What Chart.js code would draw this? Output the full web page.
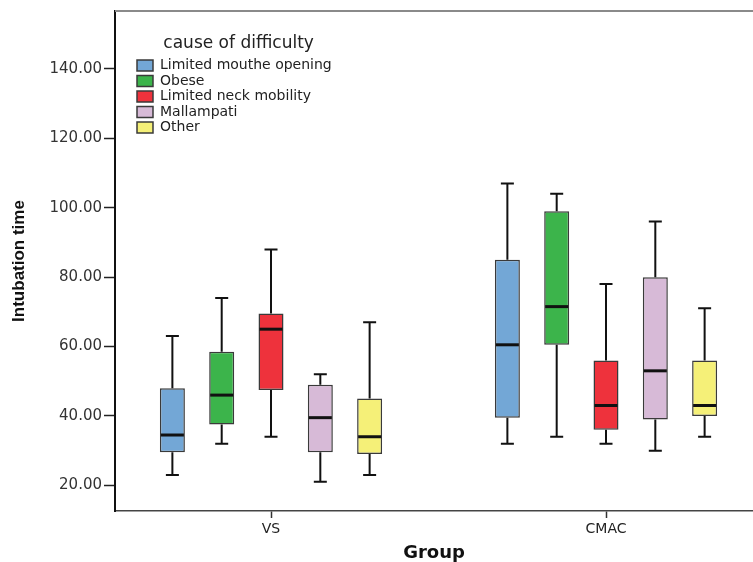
<!DOCTYPE html>
<html>
<head>
<meta charset="utf-8">
<script src="https://cdn.jsdelivr.net/npm/chart.js@4.4.0/dist/chart.umd.min.js"></script>
<style>
    body { margin: 0; background: #fff; overflow: hidden; }
    canvas { display: block; }
</style>
</head>
<body>
<canvas id="chart_intubation" width="753" height="562"></canvas>
<script>
// groups on the x axis
const groups = ['VS', 'CMAC'];
// cause of difficulty (one box per cause and group)
const causes = ['Limited mouthe opening', 'Obese', 'Limited neck mobility', 'Mallampati', 'Other'];
const colors = ['#73a7d6', '#3cb44b', '#ee323c', '#d7bad7', '#f5f078'];

// box plot stats, [cause][group]
const whiskerLow  = [[23, 32], [32, 34], [34, 32], [21, 30], [23, 34]];
const quartile1   = [[29.5, 39.5], [37.5, 60.5], [47.5, 36], [29.5, 39], [29, 40]];
const medians     = [[34.5, 60.5], [46, 71.5], [65, 43], [39.5, 53], [34, 43]];
const quartile3   = [[48, 85], [58.5, 99], [69.5, 56], [49, 80], [45, 56]];
const whiskerHigh = [[63, 107], [74, 104], [88, 78], [52, 96], [67, 71]];

const yTicks = [20, 40, 60, 80, 100, 120, 140];

document.addEventListener('DOMContentLoaded', function(){

    const datasets = causes.map((cause, ci) => ({
        label: cause,
        data: groups.map((g, gi) => ({ x: gi, y: [quartile1[ci][gi], quartile3[ci][gi]] })),
        low: whiskerLow[ci],
        med: medians[ci],
        high: whiskerHigh[ci],
        backgroundColor: colors[ci],
        borderColor: '#3a3a3a',
        borderWidth: 1.5,
        borderSkipped: false,
        categoryPercentage: 0.736,
        barPercentage: 0.507
    }));

    // whiskers + median line on top of the floating bars
    const boxWhiskers = {
        id: 'boxWhiskers',
        afterDatasetsDraw(chart) {
            const ctx = chart.ctx;
            const yScale = chart.scales.y;
            chart.data.datasets.forEach((ds, di) => {
                chart.getDatasetMeta(di).data.forEach((bar, gi) => {
                    const { x, width } = bar.getProps(['x', 'width'], true);
                    const pLow = yScale.getPixelForValue(ds.low[gi]);
                    const pHigh = yScale.getPixelForValue(ds.high[gi]);
                    const pQ1 = yScale.getPixelForValue(ds.data[gi].y[0]);
                    const pQ3 = yScale.getPixelForValue(ds.data[gi].y[1]);
                    const pMed = yScale.getPixelForValue(ds.med[gi]);
                    const cap = width * 0.26;

                    ctx.save();
                    ctx.strokeStyle = '#111';
                    ctx.lineWidth = 2;
                    ctx.beginPath();
                    ctx.moveTo(x, pQ3); ctx.lineTo(x, pHigh);
                    ctx.moveTo(x - cap, pHigh); ctx.lineTo(x + cap, pHigh);
                    ctx.moveTo(x, pQ1); ctx.lineTo(x, pLow);
                    ctx.moveTo(x - cap, pLow); ctx.lineTo(x + cap, pLow);
                    ctx.stroke();

                    ctx.lineWidth = 3;
                    ctx.beginPath();
                    ctx.moveTo(x - width / 2 + 1, pMed);
                    ctx.lineTo(x + width / 2 - 1, pMed);
                    ctx.stroke();
                    ctx.restore();
                });
            });
        }
    };

    // top frame line + legend placed inside the plot
    const frame = {
        id: 'frame',
        afterLayout(chart) {
            const area = chart.chartArea;
            const lg = chart.legend;
            lg.left = area.left + 20.5;
            lg.top = area.top + 16;
            lg.right = area.right;
            lg.bottom = area.bottom;
        },
        beforeDatasetsDraw(chart) {
            const { ctx, chartArea } = chart;
            ctx.save();
            ctx.strokeStyle = '#8a8a8a';
            ctx.lineWidth = 2;
            ctx.beginPath();
            ctx.moveTo(chartArea.left, chartArea.top);
            ctx.lineTo(chartArea.right, chartArea.top);
            ctx.stroke();
            ctx.restore();
        }
    };

    new Chart(document.querySelector('#chart_intubation'), {
        type: 'bar',
        data: { datasets: datasets },
        options: {
            responsive: false,
            animation: false,
            layout: { padding: { top: 10, left: 0, right: 0, bottom: 0 } },
            plugins: {
                tooltip: { enabled: false },
                legend: {
                    position: 'chartArea',
                    align: 'start',
                    title: {
                        display: true,
                        text: 'cause of difficulty',
                        color: '#222',
                        font: { family: 'DejaVu Sans', size: 17 },
                        padding: { top: 8.2, bottom: 1.4 }
                    },
                    labels: {
                        boxWidth: 16,
                        boxHeight: 11,
                        padding: 1.5,
                        color: '#222',
                        font: { family: 'DejaVu Sans', size: 14 }
                    }
                }
            },
            scales: {
                x: {
                    type: 'linear',
                    offset: false,
                    min: -0.4657,
                    max: 1.4388,
                    afterBuildTicks: scale => { scale.ticks = groups.map((g, i) => ({ value: i })); },
                    afterFit: scale => { scale.height = 51; },
                    ticks: {
                        callback: v => groups[v],
                        color: '#222',
                        padding: 3,
                        font: { family: 'DejaVu Sans', size: 14 }
                    },
                    grid: { offset: false, drawOnChartArea: false, drawTicks: true, tickLength: 7, tickColor: '#333', tickWidth: 1.5 },
                    border: { color: '#444', width: 1.5 },
                    title: {
                        display: true,
                        text: 'Group',
                        color: '#111',
                        font: { family: 'DejaVu Sans', size: 18, weight: 'bold', lineHeight: 1 },
                        padding: { top: 0, bottom: 0 }
                    }
                },
                y: {
                    min: 12.6,
                    max: 156.7,
                    afterBuildTicks: scale => { scale.ticks = yTicks.map(v => ({ value: v })); },
                    afterFit: scale => { scale.width = 115; },
                    ticks: {
                        callback: v => v.toFixed(2),
                        color: '#333',
                        padding: 2,
                        font: { family: 'DejaVu Sans', size: 15 }
                    },
                    grid: { drawOnChartArea: false, drawTicks: true, tickLength: 11, tickColor: '#222', tickWidth: 1.5 },
                    border: { color: '#111', width: 2 },
                    title: {
                        display: true,
                        text: 'Intubation time',
                        color: '#111',
                        font: { family: "'Liberation Sans', Arial, sans-serif", size: 17, weight: 'bold' },
                        padding: { top: 9, bottom: 0 }
                    }
                }
            }
        },
        plugins: [boxWhiskers, frame]
    });
});
</script>
</body>
</html>
